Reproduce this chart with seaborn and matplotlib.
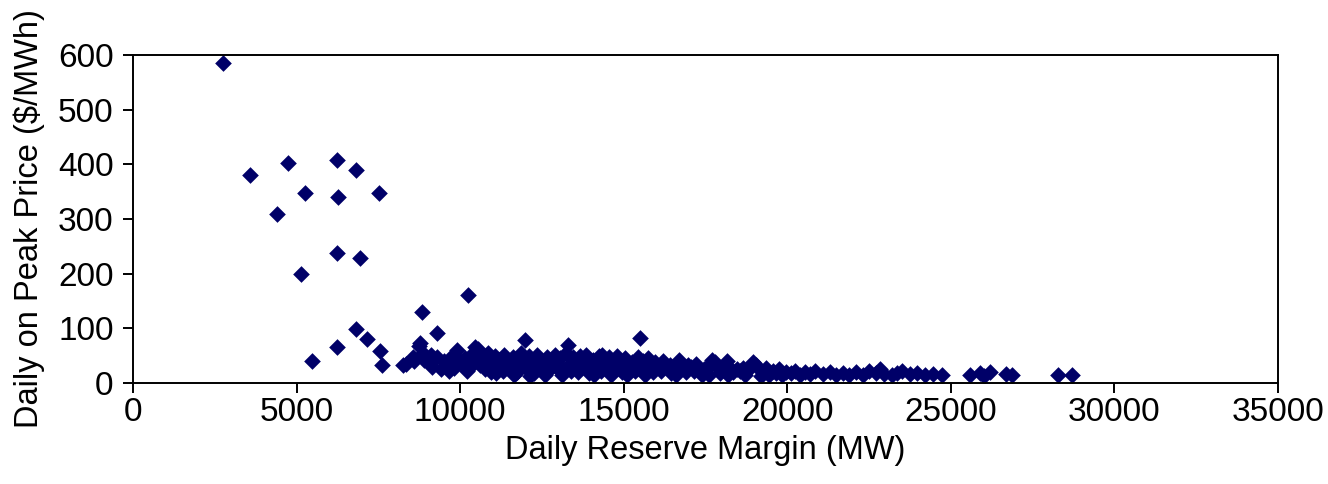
import matplotlib
matplotlib.use("Agg")
import matplotlib.pyplot as plt
import pandas as pd
import seaborn as sns

# scarcity days: low reserve margin, high prices
spike_mw = [2761, 3577, 4749, 4392, 5258, 6226, 6807, 6278, 7531, 6226, 6940, 5126,
            5462, 6226, 6807, 7165, 7551, 7623, 8255, 8774, 8826, 9284, 10242]
spike_price = [585, 380, 402, 309, 348, 407, 390, 340, 348, 237, 228, 200,
               40, 66, 98, 80, 59, 33, 33, 73, 130, 91, 161]

# ordinary days: the dense band along the bottom
band_mw = [8354, 8567, 8750, 8866, 8600, 8900,
           9050, 9150, 9300, 9400, 9500, 9600, 9700, 9800, 9900, 9950, 9100, 9650, 9850,
           10050, 10150, 10300, 10400, 10450, 10200, 10350,
           10550, 10600, 10700, 10750, 10850, 10900, 10950, 10650,
           11050, 11150, 11200, 11300, 11350, 11450, 11100, 11400,
           11550, 11600, 11700, 11750, 11850, 11980, 11900, 11650, 11800,
           12050, 12100, 12200, 12250, 12350, 12400, 12450, 12150,
           12550, 12650, 12700, 12800, 12900, 12950, 12600, 12850,
           13050, 13150, 13250, 13300, 13350, 13450, 13100, 13400,
           13550, 13650, 13700, 13800, 13900, 13950, 13600, 13850,
           14050, 14150, 14250, 14300, 14400, 14450, 14100, 14350,
           14550, 14650, 14700, 14800, 14900, 14950, 14600, 14850,
           15050, 15150, 15250, 15350, 15450, 15500, 15100, 15400,
           15600, 15700, 15800, 15900, 15650, 15950, 15750,
           16050, 16150, 16250, 16350, 16450, 16200, 16400,
           16550, 16650, 16700, 16800, 16900, 16950, 16600,
           17050, 17150, 17250, 17350, 17450, 17200, 17400,
           17550, 17650, 17700, 17800, 17900, 17950, 17600,
           18050, 18150, 18250, 18350, 18450, 18200,
           18550, 18650, 18750, 18850, 18950, 18700,
           19050, 19150, 19250, 19350, 19450, 19200,
           19550, 19650, 19750, 19850, 19950,
           20100, 20250, 20400, 20550, 20700, 20850,
           21100, 21300, 21500, 21700, 21900,
           22100, 22300, 22500, 22700, 22835, 22950,
           23200, 23350, 23510, 23750, 23960,
           24200, 24450, 24725,
           25580, 25880, 26000, 26190, 26700, 26860, 28280, 28710]
band_price = [35, 48, 68, 55, 40, 42,
              38, 30, 48, 25, 40, 33, 45, 28, 60, 38, 52, 22, 50,
              35, 45, 30, 55, 65, 22, 40,
              62, 32, 48, 25, 55, 38, 20, 45,
              50, 30, 42, 22, 52, 35, 18, 45,
              28, 48, 38, 20, 55, 79, 35, 15, 45,
              25, 50, 38, 18, 52, 30, 42, 12,
              35, 48, 22, 40, 52, 28, 15, 32,
              45, 25, 55, 69, 35, 48, 15, 22,
              40, 50, 28, 45, 35, 18, 20, 52,
              42, 30, 50, 22, 45, 35, 15, 52,
              48, 28, 40, 50, 32, 20, 15, 42,
              45, 30, 38, 22, 48, 82, 15, 35,
              40, 28, 35, 20, 15, 38, 45,
              30, 22, 35, 28, 18, 40, 32,
              25, 35, 42, 28, 20, 33, 15,
              30, 22, 28, 18, 25, 35, 14,
              28, 35, 42, 38, 25, 18, 15,
              30, 40, 28, 20, 25, 15,
              22, 28, 20, 30, 38, 14,
              32, 25, 20, 28, 15, 12,
              22, 18, 25, 15, 20,
              18, 22, 15, 20, 17, 22,
              16, 20, 15, 18, 14,
              20, 15, 22, 18, 25, 16,
              14, 18, 22, 17, 18,
              14, 16, 15,
              14, 18, 13, 20, 16, 14, 14, 14]

df = pd.DataFrame({
    "mw": spike_mw + band_mw,
    "price": spike_price + band_price,
})

sns.set_style("ticks")
plt.rcParams.update({
    "font.family": ["Liberation Sans", "DejaVu Sans"],
    "text.color": "black",
    "axes.labelcolor": "black",
    "xtick.color": "black",
    "ytick.color": "black",
    "xtick.bottom": True,
    "ytick.left": True,
    "xtick.direction": "out",
    "ytick.direction": "out",
    "xtick.major.size": 7,
    "ytick.major.size": 7,
    "xtick.major.width": 1.4,
    "ytick.major.width": 1.4,
})

fig = plt.figure(figsize=(13.28, 4.84), dpi=100)
ax = fig.add_axes([0.1002, 0.2087, 0.8621, 0.6777])

sns.scatterplot(data=df, x="mw", y="price", marker="D", s=72,
                color="#000068", linewidth=0, ax=ax)

ax.set_xlim(0, 35000)
ax.set_ylim(0, 600)
ax.set_xticks(range(0, 35001, 5000))
ax.set_yticks(range(0, 601, 100))
ax.set_xlabel("Daily Reserve Margin (MW)", fontsize=23.5, labelpad=5)
ax.set_ylabel("Daily on Peak Price ($/MWh)", fontsize=23.5, labelpad=9)
ax.tick_params(axis="both", labelsize=24)
ax.tick_params(axis="x", pad=3)
ax.tick_params(axis="y", pad=7)
for sp in ax.spines.values():
    sp.set_visible(True)
    sp.set_color("black")
    sp.set_linewidth(1.4)

fig.savefig("out.png", dpi=100)
